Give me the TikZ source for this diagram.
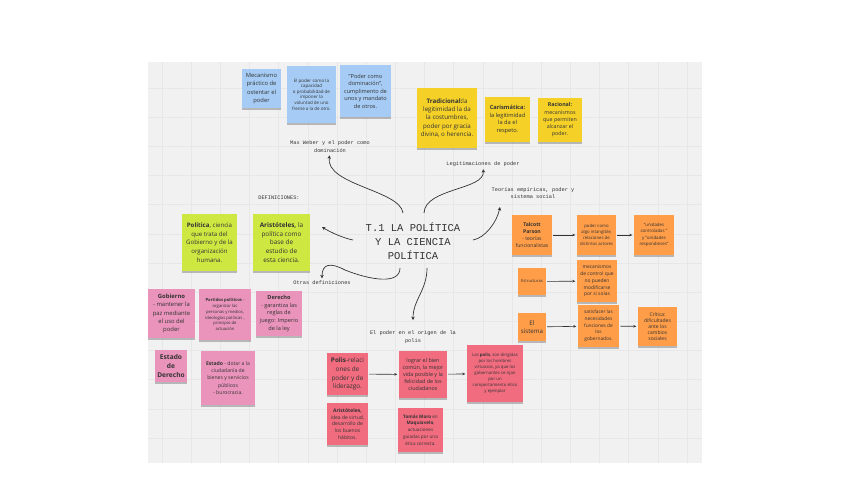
\documentclass[tikz,border=0pt]{standalone}
\usepackage{fontspec}
\setmainfont{Open Sans}
\newfontfamily\monofnt{Liberation Mono}
\usetikzlibrary{arrows.meta,shadows}
\newcommand\nfs[2]{\fontsize{#1}{#2}\selectfont}
\definecolor{cblue}{HTML}{A6CCF5}
\definecolor{cyellow}{HTML}{F5D128}
\definecolor{cgreen}{HTML}{CEE741}
\definecolor{corange}{HTML}{FF9D48}
\definecolor{cpink}{HTML}{EA94BB}
\definecolor{cred}{HTML}{F16C7F}
\definecolor{canvasbg}{HTML}{F1F1F1}
\definecolor{gridcol}{HTML}{E7E7E7}
\definecolor{inkcol}{HTML}{333333}
\begin{document}
\begin{tikzpicture}[x=1pt,y=-1pt,
  note/.style={rectangle, inner sep=1pt, align=center, text=inkcol,
    drop shadow={shadow xshift=0pt, shadow yshift=-2pt, opacity=0.35, fill=black!70}},
  bnote/.style={note, fill=cblue},
  ynote/.style={note, fill=cyellow},
  gnote/.style={note, fill=cgreen},
  onote/.style={note, fill=corange},
  pnote/.style={note, fill=cpink},
  rnote/.style={note, fill=cred},
  lbl/.style={align=center, inner sep=0.5pt, text=inkcol, font=\monofnt\nfs{5.3}{7.4}},
  curve/.style={draw=inkcol, line width=0.7pt, -{Stealth[length=3.5pt,width=3.5pt]}},
  flow/.style={draw=inkcol, line width=0.6pt, -{Stealth[length=3pt,width=2.6pt]}, shorten >=1.5pt, shorten <=1pt},
  gridln/.style={draw=gridcol, line width=0.5pt}
]
\useasboundingbox[fill=white] (0,0) rectangle (848,483);
\fill[canvasbg] (148,62) rectangle (702,463);
\foreach \i in {0,...,18} \draw[gridln] ({162+29.17*\i},62) -- ({162+29.17*\i},463);
\foreach \j in {0,...,12} \draw[gridln] (148,{88+29.17*\j}) -- (702,{88+29.17*\j});

% blue notes
\node[bnote, minimum width=39pt, minimum height=39pt, font=\nfs{5.8}{8.3}] (b1) at (261.5,88.5) {Mecanismo\\práctico de\\ostentar el\\poder};
\node[bnote, minimum width=49pt, minimum height=57pt, font=\nfs{4.5}{5.6}] (b2) at (311.5,94.5) {El poder como la\\capacidad\\o probabilidad de\\imponer la\\voluntad de uno\\frente a la de otro.};
\node[bnote, minimum width=51pt, minimum height=52pt, font=\nfs{5.6}{7.5}] (b3) at (365.5,91) {"Poder como\\dominación",\\cumplimento de\\unos y mandato\\de otros.};

% yellow notes
\node[ynote, minimum width=60pt, minimum height=60pt, font=\nfs{6.2}{8.2}] (y1) at (447,118) {\textbf{Tradicional:}la\\legitimidad la da\\la costumbres,\\poder por gracia\\divina, o herencia.};
\node[ynote, minimum width=45pt, minimum height=45pt, font=\nfs{5.7}{7.8}] (y2) at (507.5,119.5) {\textbf{Carismática:}\\la legitimidad\\la da el\\respeto.};
\node[ynote, minimum width=44pt, minimum height=44pt, font=\nfs{5.3}{7.3}] (y3) at (560,120) {\textbf{Racional:}\\mecanismos\\que permiten\\alcanzar el\\poder.};

% green notes
\node[gnote, minimum width=55pt, minimum height=57pt, font=\nfs{6.1}{8.7}] (g1) at (209.5,242.5) {\textbf{Política}, ciencia\\que trata del\\Gobierno y de la\\organización\\humana.};
\node[gnote, minimum width=57pt, minimum height=57pt, font=\nfs{6.4}{8.9}] (g2) at (281.5,242.5) {\textbf{Aristóteles,} la\\política como\\base de\\estudio de\\esta ciencia.};

% orange notes
\node[onote, minimum width=40pt, minimum height=40pt, font=\nfs{5.1}{7.2}] (o1) at (532,235) {\textbf{Talcott}\\\textbf{Parson}\\- teorías\\funcionalistas};
\node[onote, minimum width=39pt, minimum height=40pt, font=\nfs{4.3}{5.8}] (o2) at (596.5,235) {poder como\\algo intangible,\\relaciones de\\distintos actores};
\node[onote, minimum width=40pt, minimum height=40pt, font=\nfs{4.4}{6.4}] (o3) at (654,235) {"unidades\\controladas "\\y "unidades\\respondieses"};
\node[onote, minimum width=28pt, minimum height=27pt, font=\nfs{4.1}{5}] (o4) at (532,281.5) {Estructuras};
\node[onote, minimum width=40pt, minimum height=42pt, font=\nfs{4.9}{6.8}] (o5) at (597,281) {mecanismos\\de control que\\no pueden\\modificarse\\por si solas};
\node[onote, minimum width=28pt, minimum height=28pt, font=\nfs{6.2}{8.3}] (o6) at (532,327) {El\\sistema};
\node[onote, minimum width=41pt, minimum height=42pt, font=\nfs{4.8}{6.7}] (o7) at (598.5,326) {satisfacer las\\necesidades\\funciones de\\los\\gobernados.};
\node[onote, minimum width=39pt, minimum height=39pt, font=\nfs{5}{6.2}] (o8) at (657.5,326.5) {Crítica:\\dificultades\\ante los\\cambios\\sociales};

% pink notes
\node[pnote, minimum width=47pt, minimum height=49pt, font=\nfs{5.9}{8.3}] (p1) at (171.5,313.5) {\textbf{Gobierno}\\- mantener la\\paz mediante\\el uso del\\poder};
\node[pnote, minimum width=52pt, minimum height=51pt, font=\nfs{4.2}{5.9}] (p2) at (225,314.5) {\textbf{Partidos políticos} -\\organizar las\\personas y medios,\\ideologías políticas ,\\principio de\\actuación};
\node[pnote, minimum width=46pt, minimum height=45pt, font=\nfs{5.6}{7.9}] (p3) at (279,313.5) {\textbf{Derecho}\\- garantiza las\\reglas de\\juego: Imperio\\de la ley};
\node[pnote, minimum width=32pt, minimum height=32pt, font=\nfs{6.6}{9}] (p4) at (171,366) {\textbf{Estado}\\\textbf{de}\\\textbf{Derecho}};
\node[pnote, minimum width=54pt, minimum height=54pt, font=\nfs{5.1}{7.3}] (p5) at (228,378) {\textbf{Estado} - dotar a la\\ciudadanía de\\bienes y servicios\\públicos\\- burocracia.};

% red notes
\node[rnote, minimum width=41pt, minimum height=42pt, font=\nfs{6.4}{8.8}] (r1) at (347.5,374) {\textbf{Polis}-relaci\\ones de\\poder y de\\liderazgo.};
\node[rnote, minimum width=48pt, minimum height=47pt, font=\nfs{5.4}{7.1}] (r2) at (423,374.5) {lograr el bien\\común, la mejor\\vida posible y la\\felicidad de los\\ciudadanos};
\node[rnote, minimum width=56pt, minimum height=57pt, font=\nfs{4.3}{6.1}] (r3) at (495,373.5) {Las \textbf{polis}, son dirigidas\\por los hombres\\virtuosos, ya que los\\gobernantes se rijan\\por un\\comportamiento ético\\y ejemplar};
\node[rnote, minimum width=41pt, minimum height=42pt, font=\nfs{5}{6.7}] (r4) at (347.5,424) {\textbf{Aristóteles,}\\idea de virtud,\\desarrollo de\\los buenos\\hábitos.};
\node[rnote, minimum width=45pt, minimum height=44pt, font=\nfs{4.6}{6.8}] (r5) at (420.5,430) {\textbf{Tomás Moro} en\\\textbf{Maquiavelo},\\actuaciones\\guiadas por una\\ética correcta.};

% labels
\node[lbl] (mw) at (330,146.5) {Max Weber y el poder como\\dominación};
\node[lbl] (leg) at (483,164) {Legitimaciones de poder};
\node[lbl] (teo) at (533,193) {Teorías empíricas, poder y\\sistema social};
\node[lbl] (def) at (279,198) {DEFINICIONES:};
\node[lbl] (od) at (322,283) {Otras definiciones};
\node[lbl] (orig) at (413,337) {El poder en el origen de la\\polis};
\node[lbl, font=\monofnt\nfs{10.5}{14}] (title) at (413,241) {T.1 LA POLÍTICA\\Y LA CIENCIA\\POLÍTICA};

% curve anchors
\coordinate (s1) at (403,213);
\coordinate (s2) at (424,213);
\coordinate (s3) at (473,240);
\coordinate (s4) at (353,240);
\coordinate (s5) at (400,268);
\coordinate (s6) at (427,268);
\coordinate (e3) at (500,207);
\coordinate (e4) at (322,227);

\draw[curve, shorten >=2.5pt] (s1) .. controls (400,190) and (325,185) .. (mw.south);
\draw[curve, shorten >=2pt] (s2) .. controls (425,188) and (485,190) .. (leg.south);
\draw[curve] (s3) .. controls (485,238) and (497,222) .. (e3);
\draw[curve] (s4) .. controls (343,238) and (330,232) .. (e4);
\draw[curve, shorten >=2pt] (s5) .. controls (400,285) and (370,280) .. (345,270) .. controls (330,262) and (322,264) .. (od.north);
\draw[curve, shorten >=10pt] (s6) .. controls (427,290) and (413,300) .. (orig.north);

% straight arrows
\draw[flow] (o1) -- (o2);
\draw[flow] (o2) -- (o3);
\draw[flow] (o4) -- (o5);
\draw[flow] (o6) -- (o7);
\draw[flow] (o7) -- (o8);
\draw[flow] (r1) -- (r2);
\draw[flow] (r2) -- (r3);
\end{tikzpicture}
\end{document}
